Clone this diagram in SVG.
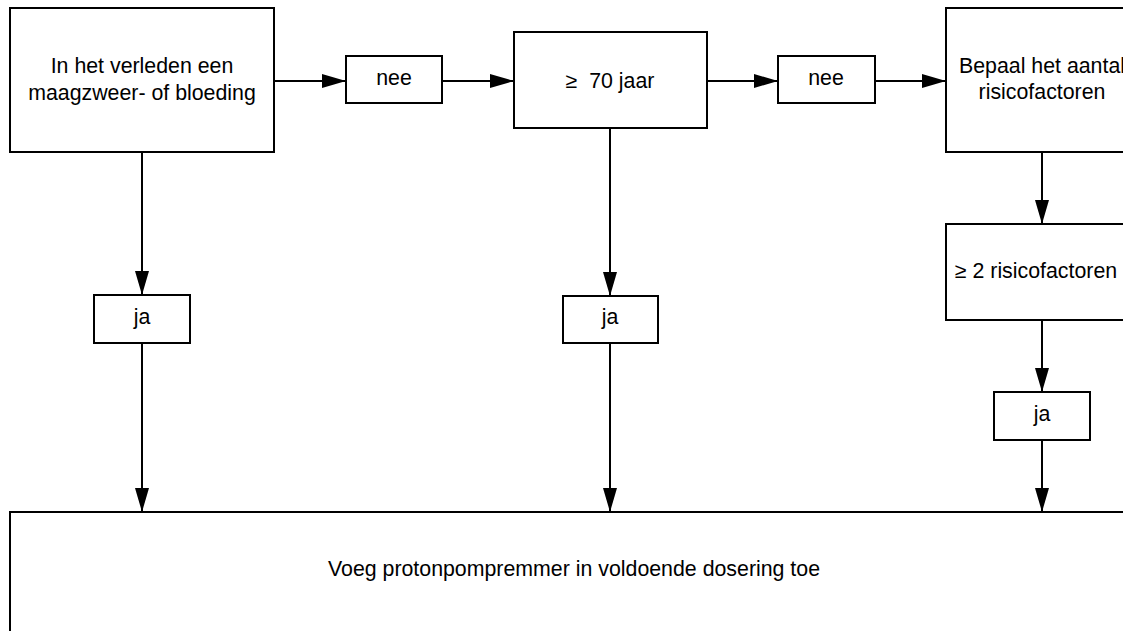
<svg xmlns="http://www.w3.org/2000/svg" width="1123" height="631" viewBox="0 0 1123 631">
  <style>
    .box { fill: #ffffff; stroke: #000000; stroke-width: 2; }
    .lbl { font-family: "Liberation Sans", Arial, sans-serif; font-size: 21.33px; fill: #000000; text-anchor: middle; }
    .conn { stroke: #000000; stroke-width: 2; fill: none; marker-end: url(#arrow); }
  </style>
  <defs>
    <marker id="arrow" markerUnits="userSpaceOnUse" markerWidth="24" markerHeight="14" refX="24" refY="7" orient="auto">
      <path d="M0,0 L24,7 L0,14 Z" fill="#000000"/>
    </marker>
  </defs>
  <rect x="0" y="0" width="1123" height="631" fill="#ffffff"/>

  <g id="connectors">
    <line class="conn" x1="274" y1="81" x2="346" y2="81"/>
    <line class="conn" x1="442" y1="81" x2="514" y2="81"/>
    <line class="conn" x1="707" y1="81" x2="778" y2="81"/>
    <line class="conn" x1="875" y1="81" x2="946" y2="81"/>
    <line class="conn" x1="142" y1="152" x2="142" y2="295"/>
    <line class="conn" x1="142" y1="343" x2="142" y2="512"/>
    <line class="conn" x1="610" y1="128" x2="610" y2="296"/>
    <line class="conn" x1="610" y1="343" x2="610" y2="512"/>
    <line class="conn" x1="1042" y1="152" x2="1042" y2="224"/>
    <line class="conn" x1="1042" y1="320" x2="1042" y2="392"/>
    <line class="conn" x1="1042" y1="440" x2="1042" y2="512"/>
  </g>

  <g id="node-verleden">
    <rect class="box" x="10" y="8" width="264" height="144"/>
    <text class="lbl" x="142" y="73">In het verleden een</text>
    <text class="lbl" x="142" y="100">maagzweer- of bloeding</text>
  </g>
  <g id="node-nee1">
    <rect class="box" x="346" y="56" width="96" height="47"/>
    <text class="lbl" x="394" y="85">nee</text>
  </g>
  <g id="node-70jaar">
    <rect class="box" x="514" y="32" width="193" height="96"/>
    <text class="lbl" x="610" y="88" xml:space="preserve">≥  70 jaar</text>
  </g>
  <g id="node-nee2">
    <rect class="box" x="778" y="56" width="97" height="47"/>
    <text class="lbl" x="826" y="85">nee</text>
  </g>
  <g id="node-bepaal">
    <rect class="box" x="946" y="8" width="192" height="144"/>
    <text class="lbl" x="1042" y="73">Bepaal het aantal</text>
    <text class="lbl" x="1042" y="99">risicofactoren</text>
  </g>
  <g id="node-2risico">
    <rect class="box" x="946" y="224" width="192" height="96"/>
    <text class="lbl" x="1036" y="278">≥ 2 risicofactoren</text>
  </g>
  <g id="node-ja1">
    <rect class="box" x="94" y="295" width="96" height="48"/>
    <text class="lbl" x="142" y="324">ja</text>
  </g>
  <g id="node-ja2">
    <rect class="box" x="563" y="296" width="95" height="47"/>
    <text class="lbl" x="610" y="324">ja</text>
  </g>
  <g id="node-ja3">
    <rect class="box" x="994" y="392" width="96" height="48"/>
    <text class="lbl" x="1042" y="421">ja</text>
  </g>
  <g id="node-ppi">
    <rect class="box" x="10" y="512" width="1128" height="120"/>
    <text class="lbl" x="574" y="576">Voeg protonpompremmer in voldoende dosering toe</text>
  </g>
</svg>
